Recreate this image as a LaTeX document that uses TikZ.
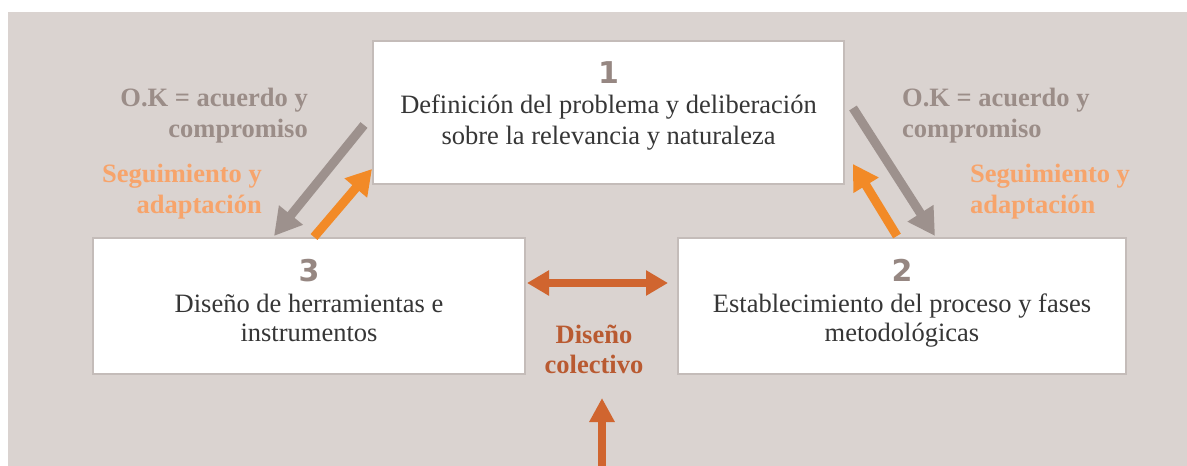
\documentclass[tikz,border=0pt]{standalone}
\usepackage{fontspec}
\setmainfont{Liberation Serif}
\newfontfamily\numfont{DejaVu Sans}
\usetikzlibrary{arrows.meta,calc}
\definecolor{bgc}{HTML}{DAD3D0}
\definecolor{boxline}{HTML}{C4BCB9}
\definecolor{greytxt}{HTML}{9B8D88}
\definecolor{numc}{HTML}{968782}
\definecolor{greyarr}{HTML}{9D918D}
\definecolor{orangetxt}{HTML}{F7A46B}
\definecolor{orangearr}{HTML}{F28A27}
\definecolor{darkor}{HTML}{D0652F}
\definecolor{dotxt}{HTML}{B95A31}
\definecolor{maintxt}{HTML}{363636}
\tikzset{
  stagebox/.style={draw=boxline, line width=2pt, fill=white, inner sep=0pt},
  numtxt/.style={anchor=base, inner sep=0pt, text=numc, font=\numfont\bfseries\fontsize{30}{34}\selectfont},
  bodytxt/.style={anchor=base, inner sep=0pt, text=maintxt, font=\fontsize{26.5}{31}\selectfont},
  oklbl/.style={inner sep=0pt, text=greytxt, font=\bfseries\fontsize{26.5}{31}\selectfont},
  seglbl/.style={inner sep=0pt, text=orangetxt, font=\bfseries\fontsize{26.5}{31}\selectfont},
  dclbl/.style={anchor=base, inner sep=0pt, text=dotxt, font=\bfseries\fontsize{26.5}{31}\selectfont},
  greyarrow/.style={draw=greyarr, line width=9pt, -{Triangle[length=27pt,width=29pt]}},
  orarrow/.style={draw=orangearr, line width=9pt, -{Triangle[length=25pt,width=28pt]}},
  darrow/.style={draw=darkor, line width=8pt},
}
\begin{document}
\begin{tikzpicture}[x=1pt,y=-1pt]
\useasboundingbox (0,0) rectangle (1187,466);
\fill[bgc] (8,12) rectangle (1187,466);

% boxes
\node[stagebox, minimum width=471pt, minimum height=143pt] (b1) at (608.5,112.5) {};
\node[stagebox, minimum width=432pt, minimum height=136pt] (b3) at (309,306) {};
\node[stagebox, minimum width=448pt, minimum height=136pt] (b2) at (902,306) {};

% box texts
\node[numtxt] (n1) at (608.5,83) {1};
\node[bodytxt] (t1a) at (608.5,113) {Definición del problema y deliberación};
\node[bodytxt] (t1b) at (608.5,144) {sobre la relevancia y naturaleza};

\node[numtxt] (n3) at (309,281) {3};
\node[bodytxt] (t3a) at (309,312) {Diseño de herramientas e};
\node[bodytxt] (t3b) at (309,341) {instrumentos};

\node[numtxt] (n2) at (902,281) {2};
\node[bodytxt] (t2a) at (902,312) {Establecimiento del proceso y fases};
\node[bodytxt] (t2b) at (902,341) {metodológicas};

% side labels
\node[oklbl, anchor=base east] (okl1) at (308,106) {O.K = acuerdo y};
\node[oklbl, anchor=base east] (okl2) at (308,137) {compromiso};
\node[seglbl, anchor=base east] (sgl1) at (262,182) {Seguimiento y};
\node[seglbl, anchor=base east] (sgl2) at (262,213) {adaptación};

\node[oklbl, anchor=base west] (okr1) at (902,106) {O.K = acuerdo y};
\node[oklbl, anchor=base west] (okr2) at (902,137) {compromiso};
\node[seglbl, anchor=base west] (sgr1) at (970,182) {Seguimiento y};
\node[seglbl, anchor=base west] (sgr2) at (970,213) {adaptación};

\node[dclbl] (dc1) at (594,343) {Diseño};
\node[dclbl] (dc2) at (594,373) {colectivo};

% arrows
\draw[greyarrow] ($(b1.west)+(-8,12.5)$) -- ($(b3.north west)+(182,-1)$);
\draw[greyarrow] ($(b1.east)+(8,-4.5)$) -- ($(b2.north west)+(258,-1)$);
\draw[orarrow] ($(b3.north west)+(222,0)$) -- ($(b1.south west)+(0,-16)$);
\draw[orarrow] ($(b2.north west)+(220,-1)$) -- ($(b1.south east)+(8,-21)$);

\draw[darrow, {Triangle[length=22pt,width=24pt]}-{Triangle[length=22pt,width=24pt]}]
  ($(b3.east)+(1,-23)$) -- ($(b2.west)+(-9,-23)$);

\coordinate (bot) at (602,470);
\draw[darrow, -{Triangle[length=24pt,width=24pt]}] (bot) -- ($(dc2.base)+(8,25)$);
\end{tikzpicture}
\end{document}
